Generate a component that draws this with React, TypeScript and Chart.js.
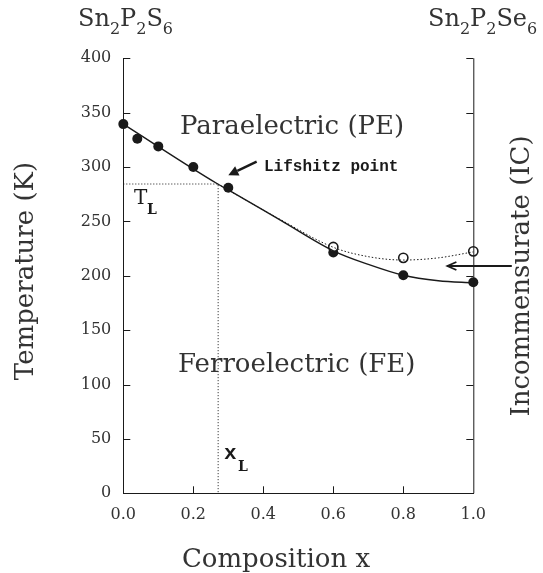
import React, { useEffect, useRef } from "react";
import { Chart, registerables } from "chart.js";

Chart.register(...registerables);

// ---- data ----
const filledX = [0, 0.04, 0.1, 0.2, 0.3, 0.6, 0.8, 1.0];
const filledT = [339.5, 326, 319, 300, 281, 221.5, 200.5, 194];
const openX = [0.6, 0.8, 1.0];
const openT = [226.5, 216.5, 222.5];
const feCurveX = [0, 0.27, 0.3, 0.45, 0.6, 0.7, 0.8, 0.9, 1.0];
const feCurveT = [339.5, 284.4, 279, 251, 223, 210.5, 200.5, 195.5, 193.5];
const icCurveX = [0.27, 0.45, 0.6, 0.7, 0.8, 0.9, 1.0];
const icCurveT = [284.4, 251.5, 226.2, 217.6, 214.5, 216.5, 222];
const lifshitzX = 0.271;
const lifshitzT = 284.4;
const yTickValues = [0, 50, 100, 150, 200, 250, 300, 350, 400];
const xTickValues = [0, 0.2, 0.4, 0.6, 0.8, 1.0];

const SERIF = '"DejaVu Serif", serif';
const MONO = '"Liberation Mono", "DejaVu Sans Mono", monospace';
const INK = "#1a1a1a";
const TEXT = "#333333";

function pts(xs: number[], ys: number[]) {
  return xs.map((x, i) => ({ x, y: ys[i] }));
}

function drawParts(
  ctx: CanvasRenderingContext2D,
  parts: [string, boolean][],
  x: number,
  baseline: number,
  size: number,
  subSize: number,
  subDrop: number
) {
  let cx = x;
  for (const [t, sub] of parts) {
    ctx.font = `${sub ? subSize : size}px ${SERIF}`;
    ctx.fillText(t, cx, sub ? baseline + subDrop : baseline);
    cx += ctx.measureText(t).width;
  }
}

function filledArrow(
  ctx: CanvasRenderingContext2D,
  x1: number, y1: number, x2: number, y2: number,
  width: number, headLen: number, headW: number
) {
  const a = Math.atan2(y2 - y1, x2 - x1);
  const bx = x2 - headLen * Math.cos(a);
  const by = y2 - headLen * Math.sin(a);
  ctx.beginPath();
  ctx.moveTo(x1, y1);
  ctx.lineTo(bx, by);
  ctx.lineWidth = width;
  ctx.stroke();
  ctx.beginPath();
  ctx.moveTo(x2, y2);
  ctx.lineTo(bx + headW * Math.sin(a), by - headW * Math.cos(a));
  ctx.lineTo(bx - headW * Math.sin(a), by + headW * Math.cos(a));
  ctx.closePath();
  ctx.fill();
}

function openArrow(
  ctx: CanvasRenderingContext2D,
  x1: number, y1: number, x2: number, y2: number,
  width: number, headLen: number, headW: number
) {
  const a = Math.atan2(y2 - y1, x2 - x1);
  const bx = x2 - headLen * Math.cos(a);
  const by = y2 - headLen * Math.sin(a);
  ctx.lineWidth = width;
  ctx.beginPath();
  ctx.moveTo(x1, y1);
  ctx.lineTo(x2, y2);
  ctx.stroke();
  ctx.beginPath();
  ctx.moveTo(bx + headW * Math.sin(a), by - headW * Math.cos(a));
  ctx.lineTo(x2, y2);
  ctx.lineTo(bx - headW * Math.sin(a), by + headW * Math.cos(a));
  ctx.stroke();
}

const decorPlugin = {
  id: "decor",
  afterDraw(chart: any) {
    const ctx: CanvasRenderingContext2D = chart.ctx;
    const xs = chart.scales.x;
    const ys = chart.scales.y;
    const { left, right, top, bottom } = chart.chartArea;
    ctx.save();
    ctx.strokeStyle = INK;
    ctx.fillStyle = INK;
    ctx.lineWidth = 1;

    // right axis line
    ctx.beginPath();
    ctx.moveTo(right + 0.5, bottom);
    ctx.lineTo(right + 0.5, top);
    ctx.stroke();

    // inward ticks
    const tl = 7;
    for (const v of yTickValues) {
      if (v === 0) continue;
      const py = Math.round(ys.getPixelForValue(v)) + 0.5;
      ctx.beginPath();
      ctx.moveTo(left, py);
      ctx.lineTo(left + tl, py);
      ctx.moveTo(right, py);
      ctx.lineTo(right - tl, py);
      ctx.stroke();
    }
    for (const v of xTickValues) {
      if (v === 0 || v === 1) continue;
      const px = Math.round(xs.getPixelForValue(v)) + 0.5;
      ctx.beginPath();
      ctx.moveTo(px, bottom);
      ctx.lineTo(px, bottom - tl);
      ctx.stroke();
    }

    // arrows
    filledArrow(
      ctx,
      xs.getPixelForValue(0.381), ys.getPixelForValue(305),
      xs.getPixelForValue(0.3), ys.getPixelForValue(292.5),
      2.4, 10, 5
    );
    openArrow(
      ctx,
      xs.getPixelForValue(1.11), ys.getPixelForValue(209),
      xs.getPixelForValue(0.926), ys.getPixelForValue(209),
      1.8, 9, 4
    );

    // texts
    ctx.fillStyle = TEXT;
    ctx.textBaseline = "alphabetic";
    ctx.textAlign = "left";
    drawParts(ctx, [["Sn", false], ["2", true], ["P", false], ["2", true], ["S", false], ["6", true]], 78, 26, 24, 16, 8);
    drawParts(ctx, [["Sn", false], ["2", true], ["P", false], ["2", true], ["Se", false], ["6", true]], 428, 26, 24, 16, 8);

    ctx.font = `26px ${SERIF}`;
    ctx.fillText("Paraelectric (PE)", 180, 134);
    ctx.fillText("Ferroelectric (FE)", 178, 372);

    ctx.font = `bold 16px ${MONO}`;
    ctx.fillStyle = INK;
    ctx.fillText("Lifshitz point", 264, 171);

    // T_L
    ctx.font = `20px ${SERIF}`;
    ctx.fillText("T", 134, 204);
    ctx.font = `bold 14px ${SERIF}`;
    ctx.fillText("L", 147, 214);
    // x_L
    ctx.font = `bold 21px ${MONO}`;
    ctx.fillText("x", 224, 459);
    ctx.font = `bold 14px ${SERIF}`;
    ctx.fillText("L", 238, 471);

    // axis titles
    ctx.fillStyle = TEXT;
    ctx.font = `26px ${SERIF}`;
    ctx.textAlign = "center";
    ctx.textBaseline = "middle";
    ctx.fillText("Composition x", 276, 560);

    ctx.save();
    ctx.translate(26, 271);
    ctx.rotate(-Math.PI / 2);
    ctx.fillText("Temperature (K)", 0, 0);
    ctx.restore();

    ctx.save();
    ctx.translate(522, 276);
    ctx.rotate(-Math.PI / 2);
    ctx.fillText("Incommensurate (IC)", 0, 0);
    ctx.restore();

    ctx.restore();
  },
};

export default function App() {
  const ref = useRef<HTMLCanvasElement | null>(null);

  useEffect(() => {
    if (!ref.current) return;
    const chart = new Chart(ref.current, {
      type: "scatter",
      data: {
        datasets: [
          {
            data: pts([0, lifshitzX, lifshitzX], [lifshitzT, lifshitzT, 0]),
            showLine: true,
            borderColor: INK,
            borderWidth: 1,
            borderDash: [1, 2],
            pointRadius: 0,
            clip: false as any,
          },
          {
            data: pts(icCurveX, icCurveT),
            showLine: true,
            borderColor: INK,
            borderWidth: 1,
            borderDash: [1.5, 2],
            cubicInterpolationMode: "monotone",
            pointRadius: 0,
            clip: false as any,
          },
          {
            data: pts(feCurveX, feCurveT),
            showLine: true,
            borderColor: INK,
            borderWidth: 1.4,
            cubicInterpolationMode: "monotone",
            pointRadius: 0,
            clip: false as any,
          },
          {
            data: pts(openX, openT),
            showLine: false,
            pointRadius: 4.6,
            pointBackgroundColor: "#ffffff",
            pointBorderColor: INK,
            pointBorderWidth: 1.6,
            clip: false as any,
          },
          {
            data: pts(filledX, filledT),
            showLine: false,
            pointRadius: 5,
            pointBackgroundColor: INK,
            pointBorderColor: INK,
            pointBorderWidth: 0,
            clip: false as any,
          },
        ],
      },
      options: {
        responsive: false,
        animation: false,
        events: [],
        layout: { padding: { left: 0, top: 58.3, right: 69.7, bottom: 0 } },
        plugins: {
          legend: { display: false },
          tooltip: { enabled: false },
        },
        scales: {
          x: {
            type: "linear",
            min: 0,
            max: 1,
            afterFit: (s: any) => {
              s.height = 573 - 493.3;
            },
            afterBuildTicks: (s: any) => {
              s.ticks = xTickValues.map((v) => ({ value: v }));
            },
            ticks: {
              padding: 12,
              color: TEXT,
              font: { family: SERIF, size: 16 },
              callback: (v: any) => Number(v).toFixed(1),
              maxRotation: 0,
            },
            grid: { display: false, drawTicks: false },
            border: { display: true, color: INK, width: 1 },
          },
          y: {
            type: "linear",
            min: 0,
            max: 400,
            afterFit: (s: any) => {
              s.width = 123.3;
            },
            afterBuildTicks: (s: any) => {
              s.ticks = yTickValues.map((v) => ({ value: v }));
            },
            ticks: {
              padding: 12,
              color: TEXT,
              font: { family: SERIF, size: 16 },
            },
            grid: { display: false, drawTicks: false },
            border: { display: true, color: INK, width: 1 },
          },
        },
      },
      plugins: [decorPlugin],
    });
    return () => chart.destroy();
  }, []);

  return (
    <div style={{ position: "absolute", left: 0, top: 0, width: 543, height: 573, background: "#fff" }}>
      <canvas ref={ref} width={543} height={573} style={{ display: "block" }} />
    </div>
  );
}
